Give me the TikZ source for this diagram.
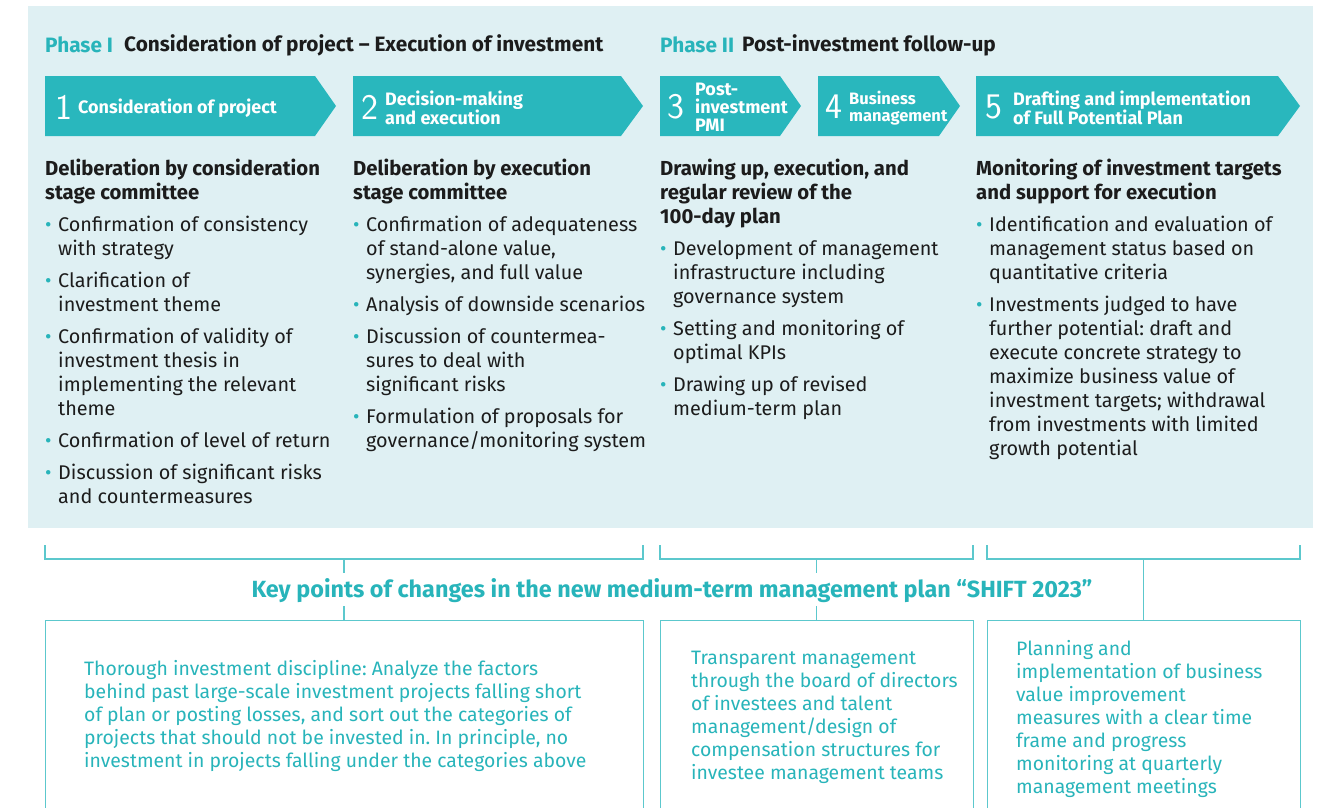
\documentclass[tikz,border=0pt]{standalone}
\usepackage{fontspec}
\setmainfont{Fira Sans}
\definecolor{bgc}{RGB}{223,240,243}
\definecolor{tealA}{RGB}{41,183,189}
\definecolor{tealT}{RGB}{40,180,186}
\definecolor{lineC}{RGB}{92,200,205}
\definecolor{txt}{RGB}{28,28,28}
\newcommand{\bl}[1]{\par\vspace{8pt}\hangindent=13pt\hangafter=1\noindent\makebox[13pt][l]{\textcolor{tealT}{\textbullet}}#1}
\newcommand{\hd}[1]{{\bfseries\fontsize{20.3}{24}\selectfont #1\par}}
\newcommand{\cbox}[2]{\parbox[t]{#1}{\raggedright\let\\\newline\frenchspacing #2}}
\tikzset{
  arrowshape/.style={fill=tealA},
  numtxt/.style={anchor=west,inner sep=0pt,text=white,font=\sffamily\fontsize{36}{36}\selectfont},
  arrtxt/.style={anchor=west,inner sep=0pt,text=white,align=left,font=\bfseries\fontsize{18}{18}\selectfont},
  phase/.style={anchor=west,inner sep=0pt,font=\bfseries\fontsize{20.8}{22}\selectfont},
  col/.style={anchor=north west,inner sep=0pt,text=txt,font=\fontsize{19.8}{24}\selectfont},
  brk/.style={draw=lineC,line width=1.3pt},
  keybox/.style={draw=lineC,line width=1.3pt,anchor=north west,inner sep=0pt},
  boxtxt/.style={anchor=north west,inner sep=0pt,text=tealT,font=\fontsize{19.4}{23}\selectfont},
}
\begin{document}
\begin{tikzpicture}[x=1pt,y=-1pt]
\useasboundingbox (0,0) rectangle (1329,807);
\fill[bgc] (28,6) rectangle (1313,528);
% phase headers
\node[phase,text=tealT] (p1) at (45,45) {Phase I};
\node[phase,text=txt] (p1t) at (124,45) {Consideration of project – Execution of investment};
\node[phase,text=tealT] (p2) at (660,45) {Phase II};
\node[phase,text=txt] (p2t) at (742,45) {Post-investment follow-up};
% arrows
\fill[arrowshape] (45,76) -- (315,76) -- (336,106) -- (315,136) -- (45,136) -- cycle;
\fill[arrowshape] (353,76) -- (621,76) -- (643,106) -- (621,136) -- (353,136) -- cycle;
\fill[arrowshape] (660,76) -- (780,76) -- (801,106) -- (780,136) -- (660,136) -- cycle;
\fill[arrowshape] (818,76) -- (939,76) -- (960,106) -- (939,136) -- (818,136) -- cycle;
\fill[arrowshape] (976,76) -- (1278,76) -- (1300,106) -- (1278,136) -- (976,136) -- cycle;
\node[numtxt] (n1) at (55,107) {1};
\node[numtxt] (n2) at (361,107) {2};
\node[numtxt] (n3) at (667,107) {3};
\node[numtxt] (n4) at (825,107) {4};
\node[numtxt] (n5) at (985,107) {5};
\node[arrtxt] (a1) at (78,108) {Consideration of project};
\node[arrtxt] (a2) at (385,108) {Decision-making\\and execution};
\node[arrtxt] (a3) at (695,107) {Post-\\investment\\PMI};
\node[arrtxt,font=\bfseries\fontsize{16.5}{17}\selectfont] (a4) at (849,108) {Business\\management};
\node[arrtxt] (a5) at (1013,108) {Drafting and implementation\\of Full Potential Plan};
% columns
\node[col] (c1) at (45,159) {\cbox{300pt}{\hd{Deliberation by consideration\\stage committee}
\bl{Confirmation of consistency\\with strategy}
\bl{Clarification of\\investment theme}
\bl{Confirmation of validity of\\investment thesis in\\implementing the relevant\\theme}
\bl{Confirmation of level of return}
\bl{Discussion of significant risks\\and countermeasures}}};
\node[col] (c2) at (353,159) {\cbox{300pt}{\hd{Deliberation by execution\\stage committee}
\bl{Confirmation of adequateness\\of stand-alone value,\\synergies, and full value}
\bl{Analysis of downside scenarios}
\bl{Discussion of countermea-\\sures to deal with\\significant risks}
\bl{Formulation of proposals for\\governance/monitoring system}}};
\node[col] (c3) at (660,159) {\cbox{310pt}{\hd{Drawing up, execution, and\\regular review of the\\100-day plan}
\bl{Development of management\\infrastructure including\\governance system}
\bl{Setting and monitoring of\\optimal KPIs}
\bl{Drawing up of revised\\medium-term plan}}};
\node[col] (c4) at (976,159) {\cbox{330pt}{\hd{Monitoring of investment targets\\and support for execution}
\bl{Identification and evaluation of\\management status based on\\quantitative criteria}
\bl{Investments judged to have\\further potential: draft and\\execute concrete strategy to\\maximize business value of\\investment targets; withdrawal\\from investments with limited\\growth potential}}};
% brackets
\coordinate (b1l) at (45,545); \coordinate (b1r) at (643,545);
\coordinate (b2l) at (660,545); \coordinate (b2r) at (973,545);
\coordinate (b3l) at (987,545); \coordinate (b3r) at (1300,545);
\draw[brk] (b1l) -- ++(0,14) -| (b1r);
\draw[brk] (b2l) -- ++(0,14) -| (b2r);
\draw[brk] (b3l) -- ++(0,14) -| (b3r);
% key text
\node[inner sep=0pt,text=tealT,font=\bfseries\fontsize{23.4}{24}\selectfont,minimum height=33pt] (key) at (672,591) {Key points of changes in the new medium-term management plan “SHIFT 2023”};
% bottom boxes
\node[keybox,minimum width=598pt,minimum height=220pt] (k1) at (45,620) {};
\node[keybox,minimum width=313pt,minimum height=220pt] (k2) at (660,620) {};
\node[keybox,minimum width=313pt,minimum height=220pt] (k3) at (987,620) {};
\draw[brk] (344,559) -- (344,573);
\draw[brk] (344,606) -- (k1.north -| 344,0);
\draw[brk] (816.5,559) -- (816.5,573);
\draw[brk] (816.5,606) -- (k2.north -| 816.5,0);
\draw[brk] (1143.5,559) -- (k3.north -| 1143.5,0);
\node[boxtxt] (t1) at (84,660.5) {\cbox{560pt}{Thorough investment discipline: Analyze the factors\\behind past large-scale investment projects falling short\\of plan or posting losses, and sort out the categories of\\projects that should not be invested in. In principle, no\\investment in projects falling under the categories above}};
\node[boxtxt] (t2) at (691,650.5) {\cbox{300pt}{Transparent management\\through the board of directors\\of investees and talent\\management/design of\\compensation structures for\\investee management teams}};
\node[boxtxt] (t3) at (1016,640.5) {\cbox{300pt}{Planning and\\implementation of business\\value improvement\\measures with a clear time\\frame and progress\\monitoring at quarterly\\management meetings}};
\end{tikzpicture}
\end{document}
